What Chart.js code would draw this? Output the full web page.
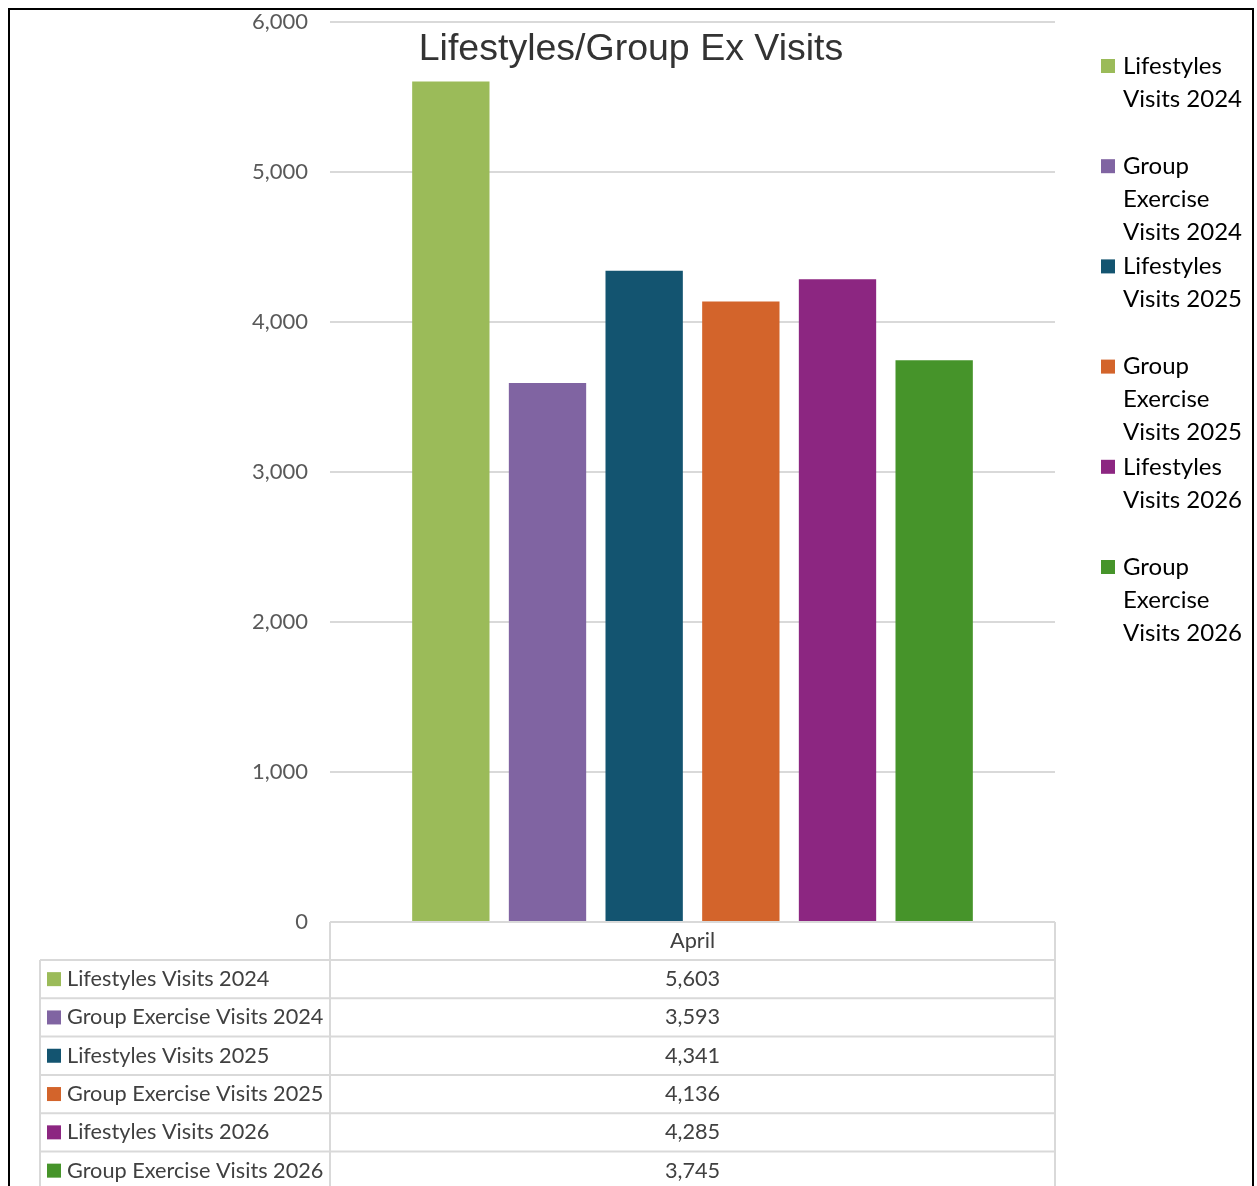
<!DOCTYPE html>
<html>
<head>
<meta charset="utf-8">
<script src="https://cdn.jsdelivr.net/npm/chart.js@4.4.1/dist/chart.umd.min.js"></script>
<style>
    body { margin: 0; background: #fff; }
    #wrap { width: 1257px; height: 1186px; position: relative; }
</style>
</head>
<body>
<div id="wrap"><canvas id="myChart"></canvas></div>
<script>
let categories = ['April']
let seriesNames = [
    'Lifestyles Visits 2024',
    'Group Exercise Visits 2024',
    'Lifestyles Visits 2025',
    'Group Exercise Visits 2025',
    'Lifestyles Visits 2026',
    'Group Exercise Visits 2026'
]
let lifestyles2024 = [5603]
let groupEx2024 = [3593]
let lifestyles2025 = [4341]
let groupEx2025 = [4136]
let lifestyles2026 = [4285]
let groupEx2026 = [3745]
let seriesColors = ['#9BBB59', '#8064A2', '#135470', '#D3642B', '#8C2681', '#46942A']
let yMin = 0
let yMax = 6000
let yStep = 1000

let fontName = 'Lato, "Open Sans", sans-serif'
let allSeries = [lifestyles2024, groupEx2024, lifestyles2025, groupEx2025, lifestyles2026, groupEx2026]

let datasets = allSeries.map(function(values, i) {
    return {
        label: seriesNames[i],
        data: values,
        backgroundColor: seriesColors[i],
        borderWidth: 0,
        categoryPercentage: 0.8,
        barPercentage: 0.8
    }
})

function wrapWords(ctx, text, maxWidth) {
    let words = text.split(' ')
    let lines = []
    let line = ''
    words.forEach(function(w) {
        let test = line ? line + ' ' + w : w
        if (line && ctx.measureText(test).width > maxWidth) {
            lines.push(line)
            line = w
        } else {
            line = test
        }
    })
    lines.push(line)
    return lines
}

let extras = {
    id: 'extras',
    afterDraw: function(chart) {
        let ctx = chart.ctx
        let area = chart.chartArea
        let xScale = chart.scales.x
        ctx.save()

        // title
        ctx.fillStyle = '#333333'
        ctx.font = '37.5px "Liberation Sans", Arial, sans-serif'
        ctx.textAlign = 'center'
        ctx.textBaseline = 'middle'
        ctx.fillText('Lifestyles/Group Ex Visits', 631, 50)

        // legend on the right
        ctx.font = '24px ' + fontName
        ctx.textAlign = 'left'
        chart.data.datasets.forEach(function(ds, i) {
            let top = 66 + i * 100.2
            ctx.fillStyle = ds.backgroundColor
            ctx.fillRect(1101, top - 7, 14, 14)
            ctx.fillStyle = '#000000'
            let lines = wrapWords(ctx, ds.label, 125)
            lines.forEach(function(l, j) {
                ctx.fillText(l, 1123, top + j * 33)
            })
        })

        // data table
        let tLeft = 40
        let rowH = 38.3
        let headTop = area.bottom
        let rowsTop = headTop + 38
        let nRows = chart.data.datasets.length
        ctx.strokeStyle = '#d9d9d9'
        ctx.lineWidth = 2
        ctx.beginPath()
        ctx.moveTo(area.left, headTop)
        ctx.lineTo(area.right, headTop)
        for (let r = 0; r <= nRows; r++) {
            let y = rowsTop + r * rowH
            ctx.moveTo(tLeft, y)
            ctx.lineTo(area.right, y)
        }
        ctx.moveTo(area.left, headTop)
        ctx.lineTo(area.left, rowsTop + nRows * rowH)
        ctx.moveTo(area.right, headTop)
        ctx.lineTo(area.right, rowsTop + nRows * rowH)
        ctx.moveTo(tLeft, rowsTop)
        ctx.lineTo(tLeft, rowsTop + nRows * rowH)
        ctx.stroke()

        ctx.font = '21.7px ' + fontName
        ctx.fillStyle = '#404040'
        ctx.textAlign = 'center'
        chart.data.labels.forEach(function(c, k) {
            ctx.fillText(c, xScale.getPixelForValue(k), headTop + 19)
        })
        chart.data.datasets.forEach(function(ds, i) {
            let cy = rowsTop + i * rowH + rowH / 2
            ctx.fillStyle = ds.backgroundColor
            ctx.fillRect(47, cy - 7, 14, 14)
            ctx.fillStyle = '#404040'
            ctx.textAlign = 'left'
            ctx.fillText(ds.label, 67, cy)
            ctx.textAlign = 'center'
            ds.data.forEach(function(v, k) {
                ctx.fillText(v.toLocaleString('en-US'), xScale.getPixelForValue(k), cy)
            })
        })

        // outer frame
        ctx.strokeStyle = '#000000'
        ctx.lineWidth = 2
        ctx.strokeRect(9, 9, 1244, 1200)
        ctx.restore()
    }
}

let myChart = new Chart(document.getElementById('myChart'), {
    type: 'bar',
    data: {
        labels: categories,
        datasets: datasets
    },
    options: {
        responsive: true,
        maintainAspectRatio: false,
        animation: false,
        layout: {
            padding: { left: 0, top: 22, right: 202, bottom: 264 }
        },
        plugins: {
            legend: { display: false },
            tooltip: { enabled: false }
        },
        scales: {
            x: {
                display: false
            },
            y: {
                min: yMin,
                max: yMax,
                afterFit: function(scale) {
                    scale.width = 330
                    scale.paddingTop = 0
                    scale.paddingBottom = 0
                },
                border: { display: false },
                grid: { color: '#d9d9d9', lineWidth: 2, drawTicks: false },
                ticks: {
                    stepSize: yStep,
                    padding: 22,
                    color: '#595959',
                    font: { family: fontName, size: 22 },
                    callback: function(v) { return v.toLocaleString('en-US') }
                }
            }
        }
    },
    plugins: [extras]
})
</script>
</body>
</html>
